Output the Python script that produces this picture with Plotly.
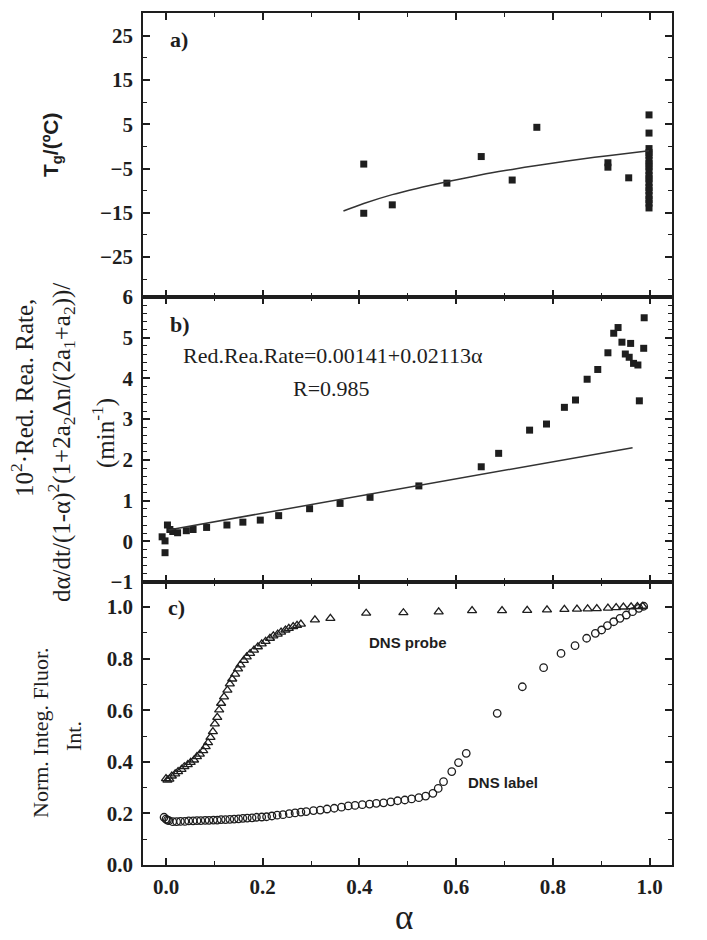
import plotly.graph_objects as go

# ---------------- data ----------------
# panel a) Tg vs alpha
a_x = [0.409, 0.409, 0.468, 0.581, 0.652, 0.716, 0.767, 0.914, 0.914, 0.957,
       0.999, 0.999, 0.999, 0.999, 0.999, 0.999, 0.999, 0.999, 0.999, 0.999,
       0.999, 0.999, 0.999, 0.999, 0.999, 0.999, 0.999, 0.999]
a_y = [-4.0, -15.1, -13.2, -8.3, -2.3, -7.6, 4.3, -3.7, -4.7, -7.1,
       7.1, 3.0, -0.5, -1.4, -2.0, -3.1, -3.9, -4.6, -5.5, -6.6,
       -7.3, -8.2, -9.3, -10.0, -11.1, -12.0, -12.8, -13.9]
fit_a_x = [0.367, 0.409, 0.468, 0.519, 0.581, 0.652, 0.716, 0.767, 0.830, 0.914, 0.999]
fit_a_y = [-14.6, -12.9, -10.9, -9.5, -8.0, -6.4, -5.2, -4.3, -3.3, -2.1, -1.0]

# panel b) reduced reaction rate
b_x = [-0.008, -0.002, -0.002, 0.003, 0.008, 0.014, 0.024, 0.042, 0.056, 0.084,
       0.126, 0.159, 0.195, 0.233, 0.297, 0.360, 0.422, 0.523, 0.652, 0.688,
       0.752, 0.787, 0.824, 0.847, 0.871, 0.893, 0.914, 0.926, 0.935, 0.943,
       0.950, 0.958, 0.961, 0.967, 0.976, 0.979, 0.988, 0.989]
b_y = [0.11, 0.01, -0.28, 0.40, 0.29, 0.24, 0.21, 0.26, 0.29, 0.34,
       0.40, 0.47, 0.52, 0.63, 0.80, 0.93, 1.08, 1.36, 1.83, 2.16,
       2.73, 2.88, 3.29, 3.47, 3.98, 4.22, 4.63, 5.11, 5.25, 4.89,
       4.60, 4.52, 4.86, 4.37, 4.33, 3.45, 4.74, 5.49]
fit_b_x = [0.005, 0.965]
fit_b_y = [0.28, 2.30]

# panel c) normalized integrated fluorescence
probe_x = [0.000, 0.003, 0.007, 0.012, 0.019, 0.025, 0.032, 0.038, 0.045, 0.051,
           0.058, 0.064, 0.070, 0.077, 0.082, 0.087, 0.092, 0.097, 0.101, 0.106,
           0.110, 0.114, 0.120, 0.127, 0.132, 0.137, 0.143, 0.149, 0.154, 0.161,
           0.167, 0.174, 0.182, 0.190, 0.198, 0.206, 0.215, 0.222, 0.231, 0.238,
           0.247, 0.254, 0.263, 0.271, 0.279, 0.308, 0.340, 0.414, 0.491, 0.564,
           0.633, 0.695, 0.747, 0.788, 0.824, 0.850, 0.872, 0.891, 0.914, 0.931,
           0.946, 0.962, 0.975, 0.986]
probe_y = [0.335, 0.329, 0.333, 0.345, 0.353, 0.362, 0.371, 0.381, 0.389, 0.398,
           0.407, 0.420, 0.430, 0.443, 0.459, 0.474, 0.495, 0.517, 0.547, 0.572,
           0.601, 0.627, 0.652, 0.678, 0.702, 0.721, 0.740, 0.760, 0.776, 0.793,
           0.807, 0.820, 0.833, 0.846, 0.857, 0.867, 0.879, 0.888, 0.895, 0.903,
           0.911, 0.917, 0.924, 0.929, 0.934, 0.950, 0.956, 0.976, 0.978, 0.981,
           0.986, 0.986, 0.987, 0.989, 0.991, 0.992, 0.993, 0.994, 0.996, 0.998,
           1.000, 1.001, 1.002, 1.003]
label_x = [-0.004, 0.000, 0.003, 0.006, 0.014, 0.022, 0.030, 0.039, 0.047, 0.056,
           0.064, 0.072, 0.081, 0.089, 0.098, 0.106, 0.114, 0.123, 0.132, 0.141,
           0.150, 0.159, 0.168, 0.178, 0.187, 0.198, 0.208, 0.219, 0.230, 0.242,
           0.255, 0.267, 0.279, 0.290, 0.305, 0.319, 0.333, 0.348, 0.363, 0.377,
           0.391, 0.406, 0.421, 0.435, 0.450, 0.465, 0.479, 0.494, 0.508, 0.523,
           0.537, 0.552, 0.563, 0.574, 0.591, 0.605, 0.621, 0.685, 0.737, 0.781,
           0.817, 0.846, 0.870, 0.888, 0.901, 0.913, 0.926, 0.939, 0.952, 0.965,
           0.978, 0.988]
label_y = [0.185, 0.178, 0.174, 0.172, 0.168, 0.168, 0.169, 0.169, 0.171, 0.171,
           0.172, 0.172, 0.173, 0.173, 0.174, 0.174, 0.176, 0.176, 0.177, 0.178,
           0.179, 0.181, 0.182, 0.183, 0.185, 0.186, 0.187, 0.190, 0.193, 0.195,
           0.199, 0.202, 0.205, 0.207, 0.211, 0.213, 0.217, 0.220, 0.224, 0.229,
           0.231, 0.234, 0.236, 0.239, 0.241, 0.245, 0.249, 0.252, 0.256, 0.261,
           0.267, 0.278, 0.297, 0.323, 0.362, 0.397, 0.433, 0.588, 0.691, 0.765,
           0.820, 0.850, 0.879, 0.898, 0.911, 0.928, 0.943, 0.956, 0.969, 0.982,
           0.995, 1.003]

x_ticks = [0.0, 0.2, 0.4, 0.6, 0.8, 1.0]

# ---------------- layout helpers (page pixel coordinates) ----------------
W, H = 707, 940
L, R, T, B = 143, 672, 13, 865
INK = "#1e1e1e"
SERIF = "Liberation Serif, Times New Roman, serif"
SANS = "Liberation Sans, Arial, sans-serif"


def px(x):
    return (x - L) / (R - L)


def py(y):
    return (B - y) / (B - T)


fig = go.Figure()

sq = dict(symbol="square", size=7, color=INK)
fig.add_trace(go.Scatter(x=a_x, y=a_y, mode="markers", marker=sq, xaxis="x3", yaxis="y3"))
fig.add_trace(go.Scatter(x=fit_a_x, y=fit_a_y, mode="lines", line=dict(color="#333", width=1.5, shape="spline"),
                         xaxis="x3", yaxis="y3"))
fig.add_trace(go.Scatter(x=b_x, y=b_y, mode="markers", marker=sq, xaxis="x2", yaxis="y2"))
fig.add_trace(go.Scatter(x=fit_b_x, y=fit_b_y, mode="lines", line=dict(color="#333", width=1.5),
                         xaxis="x2", yaxis="y2"))
fig.add_trace(go.Scatter(x=probe_x, y=probe_y, mode="markers",
                         marker=dict(symbol="triangle-up-open", size=8, color=INK, line=dict(width=1.3, color=INK)),
                         xaxis="x", yaxis="y"))
fig.add_trace(go.Scatter(x=label_x, y=label_y, mode="markers",
                         marker=dict(symbol="circle-open", size=7.5, color=INK, line=dict(width=1.3, color=INK)),
                         xaxis="x", yaxis="y"))

x0_px, x1_px = 166.0, 649.5   # page pixels of alpha = 0 and alpha = 1
xr = [(L - x0_px) / (x1_px - x0_px), (R - x0_px) / (x1_px - x0_px)]
common = dict(showline=True, linecolor=INK, linewidth=1.6, mirror="ticks", ticks="inside",
              ticklen=7, tickwidth=1.5, tickcolor=INK, showgrid=False, zeroline=False,
              automargin=False)
tickfont = dict(family=SERIF, size=21, color=INK, weight="bold")

xcommon = dict(common, range=xr, tickmode="array", tickvals=x_ticks,
               minor=dict(ticks="inside", ticklen=4, tickwidth=1.3, tickcolor=INK, dtick=0.1, tick0=0))

d1, d2 = (B - 582) / (B - T), (B - 297) / (B - T)

fig.update_layout(
    template="none",
    width=W, height=H, margin=dict(l=L, r=W - R, t=T, b=H - B, autoexpand=False),
    paper_bgcolor="white", plot_bgcolor="white", showlegend=False, hovermode=False,
    xaxis=dict(xcommon, anchor="y", tickformat=".1f", tickfont=tickfont, ticklabelstandoff=2),
    xaxis2=dict(xcommon, anchor="y2", matches="x", showticklabels=False),
    xaxis3=dict(xcommon, anchor="y3", matches="x", showticklabels=False),
    yaxis=dict(common, domain=[0, d1], range=[0, 1.097], tickmode="array",
               tickvals=[0.0, 0.2, 0.4, 0.6, 0.8, 1.0], tickformat=".1f", tickfont=tickfont,
               ticklabelstandoff=4,
               minor=dict(ticks="inside", ticklen=4, tickwidth=1.3, tickcolor=INK, dtick=0.1, tick0=0)),
    yaxis2=dict(common, domain=[d1, d2], range=[-1, 6], tickmode="array",
                tickvals=[-1, 0, 1, 2, 3, 4, 5, 6], tickfont=tickfont, ticklabelstandoff=4,
                minor=dict(ticks="inside", ticklen=4, tickwidth=1.1, tickcolor=INK, dtick=0.2, tick0=0)),
    yaxis3=dict(common, domain=[d2, 1], range=[-34, 30.1], tickmode="array",
                tickvals=[-25, -15, -5, 5, 15, 25], tickfont=tickfont, ticklabelstandoff=4,
                minor=dict(ticks="inside", ticklen=4, tickwidth=1.3, tickcolor=INK, dtick=5, tick0=0)),
)


def ann(text, x, y, size, family=SERIF, bold=False, angle=0, yanchor="middle"):
    font = dict(family=family, size=size, color=INK)
    if bold:
        font["weight"] = "bold"
    fig.add_annotation(text=text, x=px(x), y=py(y), xref="paper", yref="paper",
                       showarrow=False, textangle=angle, xanchor="center", yanchor=yanchor,
                       font=font)


ann("a)", 179, 40, 22, bold=True)
ann("b)", 180, 325, 22, bold=True)
ann("c)", 176, 607, 22, bold=True)
ann("Red.Rea.Rate=0.00141+0.02113α", 333, 355, 22)
ann("R=0.985", 331, 388, 22)
ann("DNS probe", 408, 642, 15, family=SANS, bold=True)
ann("DNS label", 503, 782, 15, family=SANS, bold=True)
ann("α", 404, 939.5, 35, yanchor="bottom")

ann("T<sub>g</sub>/(ºC)", 52, 145, 21, family=SANS, bold=True, angle=-90)
ann("10<sup>2</sup>·Red. Rea. Rate,", 22, 398, 25, angle=-90)
ann("dα/dt/(1-α)<sup>2</sup>(1+2a<sub>2</sub>Δn/(2a<sub>1</sub>+a<sub>2</sub>))/", 61, 443, 25, angle=-90)
ann("(min<sup>-1</sup>)", 103, 433, 25, angle=-90)
ann("Norm. Integ. Fluor.", 40, 733, 22, angle=-90)
ann("Int.", 73, 736, 22, angle=-90)

# the page's default 8px body margin would shift the whole figure; remove it
fig.write_html("out.html", config={"displayModeBar": False},
               post_script="document.body.style.margin='0px';")
